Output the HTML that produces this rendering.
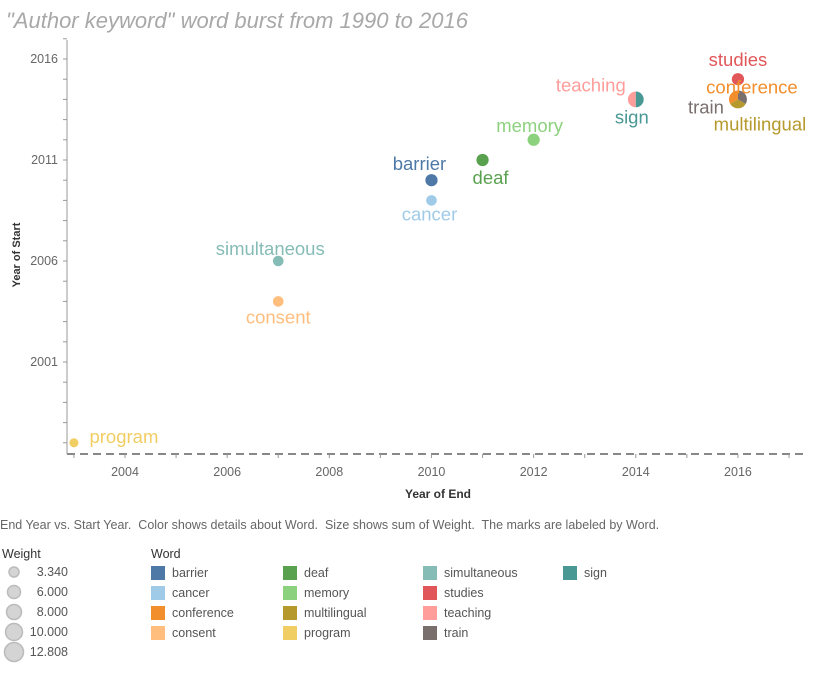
<!DOCTYPE html>
<html><head><meta charset="utf-8"><style>
body{margin:0;width:813px;height:679px;background:#fff;font-family:"Liberation Sans",sans-serif;overflow:hidden;position:relative}
.t{position:absolute;white-space:nowrap}
.sw{position:absolute;width:14px;height:14px}
.lt{position:absolute;font-size:12.5px;color:#555}
</style></head><body>
<div class="t" style="left:6px;top:8px;font-size:22px;font-style:italic;color:#a8a8a8">"Author keyword" word burst from 1990 to 2016</div>
<svg id="c" width="813" height="520" style="position:absolute;left:0;top:0"></svg>
<div class="t" style="left:0;top:518px;font-size:12.5px;color:#666">End Year vs. Start Year.&nbsp; Color shows details about Word.&nbsp; Size shows sum of Weight.&nbsp; The marks are labeled by Word.</div>
<div class="t" style="left:2px;top:547px;font-size:12.5px;color:#333">Weight</div>
<svg width="80" height="120" style="position:absolute;left:0;top:560px">
<g fill="#d4d4d4" stroke="#bbb" stroke-width="1.5">
<circle cx="14" cy="12" r="5"/><circle cx="14" cy="32" r="6.5"/><circle cx="14" cy="52" r="7.5"/><circle cx="14" cy="72" r="8.5"/><circle cx="14" cy="92" r="9.5"/></g>
<g font-size="12.5" fill="#555" text-anchor="end"><text x="68" y="16">3.340</text><text x="68" y="36">6.000</text><text x="68" y="56">8.000</text><text x="68" y="76">10.000</text><text x="68" y="96">12.808</text></g>
</svg>
<div class="t" style="left:151px;top:547px;font-size:12.5px;color:#333">Word</div>
<div id="leg"></div>
<script>
const words=["barrier","cancer","conference","consent","deaf","memory","multilingual","program","simultaneous","studies","teaching","train","sign"];
const colors=["#4e79a7","#a0cbe8","#f28e2b","#ffbe7d","#59a14f","#8cd17d","#b6992d","#f1ce63","#86bcb6","#e15759","#ff9d9a","#79706e","#499894"];
const endYear=[2010,2010,2016,2007,2011,2012,2016,2003,2007,2016,2014,2016,2014];
const startYear=[2010,2009,2014,2004,2011,2012,2014,1997,2006,2015,2014,2014,2014];
const weight=[6,4.5,12.8,4.5,6,6,12.8,3.34,4.5,6,10,12.8,10];
const xTicks=[2004,2006,2008,2010,2012,2014,2016];
const yTicks=[2001,2006,2011,2016];
const labelOff=[[-12,-16],[-2,14],[14,-12],[0,16],[8,18],[-4,-14],[22,25],[50,-6],[-8,-12],[0,-19],[-45,-14],[-32,8],[-4,18]];
const X=v=>125+(v-2004)*51.08, Y=v=>160-(v-2011)*20.2;
const R=w=>Math.sqrt(w)*2.5;
const svg=document.getElementById('c');const NS="http://www.w3.org/2000/svg";
function mk(t,a){const e=document.createElementNS(NS,t);for(const k in a)e.setAttribute(k,a[k]);svg.appendChild(e);return e;}
let ax=mk('line',{x1:67,y1:454,x2:808,y2:454,stroke:'#888','stroke-width':2,'stroke-dasharray':'8,5'});

let ay=mk('line',{x1:67,y1:40,x2:67,y2:454,stroke:'#999','stroke-width':1});

for(let y=1997;y<=2017;y++){mk('line',{x1:63,x2:67,y1:Y(y),y2:Y(y),stroke:'#999'});}
for(let x=2003;x<=2017;x++){mk('line',{x1:X(x),x2:X(x),y1:454,y2:458,stroke:'#999'});}
xTicks.forEach(v=>{const t=mk('text',{x:X(v),y:476,'font-size':12.5,fill:'#666','text-anchor':'middle'});t.textContent=v;
});
yTicks.forEach(v=>{const t=mk('text',{x:58,y:Y(v)+4,'font-size':12.5,fill:'#666','text-anchor':'end'});t.textContent=v;
});
let xt=mk('text',{x:438,y:498,'font-size':12,fill:'#333','text-anchor':'middle','font-weight':'bold'});xt.textContent='Year of End';

let yt=mk('text',{x:0,y:0,'font-size':11,fill:'#333','text-anchor':'middle','font-weight':'bold',transform:'translate(20,255) rotate(-90)'});yt.textContent='Year of Start';

const groups={};
words.forEach((w,i)=>{const k=endYear[i]+'_'+startYear[i];(groups[k]=groups[k]||[]).push(i);});
Object.values(groups).forEach(g=>{
  const cx=X(endYear[g[0]]),cy=Y(startYear[g[0]]);
  const r=R(Math.max(...g.map(i=>weight[i])));
  if(g.length===1){const i=g[0];const c=mk('circle',{cx,cy,r:R(weight[i]),fill:colors[i]});
    return;}
  const n=g.length;
  g.forEach((i,j)=>{const a0=Math.PI/2+j*2*Math.PI/n,a1=a0+2*Math.PI/n;
    const d=`M${cx},${cy}L${cx+r*Math.cos(a0)},${cy-r*Math.sin(a0)}A${r},${r} 0 0 0 ${cx+r*Math.cos(a1)},${cy-r*Math.sin(a1)}Z`;
    const p=mk('path',{d,fill:colors[i]});
    });
});
words.forEach((w,i)=>{const t=mk('text',{x:X(endYear[i])+labelOff[i][0],y:Y(startYear[i])+labelOff[i][1]+6,'font-size':18.5,fill:colors[i],'text-anchor':'middle'});t.textContent=w;
  });
const leg=document.getElementById('leg');
const cols=[151,283,423,563];
words.forEach((w,i)=>{const col=Math.floor(i/4),row=i%4;const x=cols[col],y=566+row*20;
  const s=document.createElement('div');s.className='sw';s.style.left=x+'px';s.style.top=y+'px';s.style.background=colors[i];
  leg.appendChild(s);
  const l=document.createElement('div');l.className='lt';l.style.left=(x+21)+'px';l.style.top=(y)+'px';l.textContent=w;
  leg.appendChild(l);});
</script>
</body></html>
